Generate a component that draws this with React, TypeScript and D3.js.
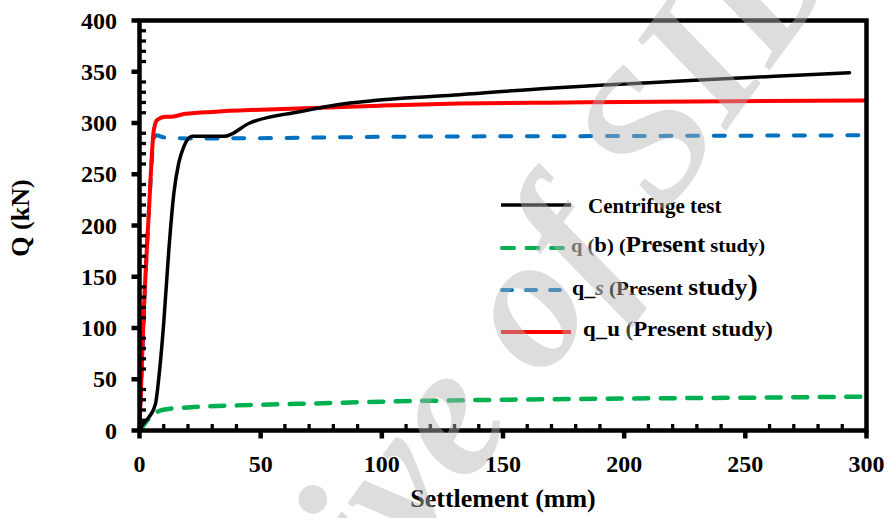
import React from "react";
import * as d3 from "d3";

// ---------- data ----------
const centrifugeX = [0, 1.1, 3.9, 6.6, 8, 10, 12.1, 14.2, 16.2, 18.3, 21.8, 28, 35, 45.5, 66, 86.8, 107, 132, 169, 200, 231, 262, 293];
const centrifugeQ = [0, 5, 13, 26, 52, 105, 176, 232, 261, 277, 287, 287, 287, 300, 311, 319.5, 324, 327.6, 334, 338, 342, 345.5, 349];

const qbX = [0, 2, 4, 6, 8, 12, 20, 40, 66, 107, 150, 190, 250, 300];
const qbQ = [0, 6, 12, 16, 19, 21, 22.5, 24.5, 26, 28.5, 30, 31, 32, 33];

const qsX = [0, 2.5, 4.5, 5.9, 7, 10, 20, 35, 100, 200, 300];
const qsQ = [0, 150, 240, 285, 288, 286, 285, 285, 286.5, 287.3, 288];

const quX = [0, 1.8, 3.9, 5.9, 7.3, 10.7, 12.4, 19, 31.4, 50, 100, 132, 169, 200, 300];
const quQ = [0, 117, 215, 293, 303, 306, 306, 309, 311, 313, 317, 319, 319.8, 320.5, 322];

const xTicks = [0, 50, 100, 150, 200, 250, 300];
const yTicks = [0, 50, 100, 150, 200, 250, 300, 350, 400];

const xTitle = "Settlement (mm)";
const yTitle = "Q (kN)";
const watermark = "Archive of SID";

// ---------- layout ----------
const W = 888;
const H = 518;
const x = d3.scaleLinear().domain([0, 300]).range([139.5, 866.5]);
const y = d3.scaleLinear().domain([0, 400]).range([430.5, 20.5]);

const FONT = "Liberation Serif";

function path(xs: number[], qs: number[]) {
  const pts = xs.map((v, i) => [v, qs[i]] as [number, number]);
  return (
    d3
      .line<[number, number]>()
      .x((d) => x(d[0]))
      .y((d) => y(d[1]))
      .curve(d3.curveMonotoneX)(pts) || ""
  );
}

export default function App() {
  const xMinor = d3.range(10, 300, 10).filter((v) => v % 50 !== 0);
  const yMinor = d3.range(10, 400, 10).filter((v) => v % 50 !== 0);
  return (
    <svg
      width={W}
      height={H}
      viewBox={`0 0 ${W} ${H}`}
      style={{ position: "absolute", left: 0, top: 0, background: "#fff" }}
    >
      <rect x={0} y={0} width={W} height={H} fill="#fff" />

      {/* series */}
      <path d={path(qbX, qbQ)} fill="none" stroke="#00b050" strokeWidth={4.5} strokeDasharray="14 12.5" strokeLinecap="round" />
      <path d={path(qsX, qsQ)} fill="none" stroke="#0070c0" strokeWidth={4} strokeDasharray="11 15.7" strokeLinecap="round" />
      <path d={path(quX, quQ)} fill="none" stroke="#ff0000" strokeWidth={4} strokeLinejoin="round" />
      <path d={path(centrifugeX, centrifugeQ)} fill="none" stroke="#000" strokeWidth={3.5} strokeLinejoin="round" strokeLinecap="round" />

      {/* frame */}
      <rect x={x(0)} y={y(400)} width={x(300) - x(0)} height={y(0) - y(400)} fill="none" stroke="#000" strokeWidth={4.5} />

      {/* y ticks */}
      {yTicks.map((t) => (
        <g key={"yt" + t}>
          <line x1={x(0) - 8} x2={x(0)} y1={y(t)} y2={y(t)} stroke="#000" strokeWidth={4.5} />
          <text x={117} y={y(t) + 8} textAnchor="end" fontFamily={FONT} fontWeight="bold" fontSize={24}>
            {t}
          </text>
        </g>
      ))}
      {yMinor.map((t) => (
        <line key={"ym" + t} x1={x(0)} x2={x(0) + 6.5} y1={y(t)} y2={y(t)} stroke="#000" strokeWidth={3.3} />
      ))}

      {/* x ticks */}
      {xTicks.map((t) => (
        <g key={"xt" + t}>
          <line x1={x(t)} x2={x(t)} y1={y(0)} y2={y(0) + 8} stroke="#000" strokeWidth={4.5} />
          <text x={x(t)} y={472} textAnchor="middle" fontFamily={FONT} fontWeight="bold" fontSize={24}>
            {t}
          </text>
        </g>
      ))}
      {xMinor.map((t) => (
        <line key={"xm" + t} x1={x(t)} x2={x(t)} y1={y(0)} y2={y(0) - 6.5} stroke="#000" strokeWidth={3.3} />
      ))}

      {/* axis titles */}
      <text x={503} y={507} textAnchor="middle" fontFamily={FONT} fontWeight="bold" fontSize={26}>
        {xTitle}
      </text>
      <text transform="translate(29,218) rotate(-90)" textAnchor="middle" fontFamily={FONT} fontWeight="bold" fontSize={26}>
        {yTitle}
      </text>

      {/* legend */}
      <line x1={501} x2={571} y1={205} y2={205} stroke="#000" strokeWidth={3.5} />
      <text x={588} y={213} fontFamily={FONT} fontWeight="bold" fontSize={21}>
        Centrifuge test
      </text>

      <line x1={502} x2={570} y1={248} y2={248} stroke="#00b050" strokeWidth={4} strokeDasharray="12 12.5" strokeLinecap="round" />
      <text x={571} y={252} fontFamily={FONT} fontWeight="bold" fontSize={19} textLength={194} lengthAdjust="spacingAndGlyphs">
        <tspan fill="#444">q (</tspan>
        <tspan fontSize={21}>b</tspan>
        <tspan>) (</tspan>
        <tspan fontSize={23}>Present</tspan>
        <tspan fontSize={19}> study)</tspan>
      </text>

      <line x1={502} x2={570} y1={290} y2={290} stroke="#0070c0" strokeWidth={4} strokeDasharray="10 14" strokeLinecap="round" />
      <text x={572} y={295} fontFamily={FONT} fontWeight="bold" fontSize={20} textLength={186} lengthAdjust="spacingAndGlyphs">
        <tspan>q_</tspan>
        <tspan fontStyle="italic" fill="#444">s</tspan>
        <tspan fontSize={19}>{"  (Present "}</tspan>
        <tspan fontSize={23}>study</tspan>
        <tspan fontSize={29}>)</tspan>
      </text>

      <line x1={501} x2={571} y1={332} y2={332} stroke="#ff0000" strokeWidth={4} />
      <text x={583} y={336} fontFamily={FONT} fontWeight="bold" fontSize={22} textLength={190} lengthAdjust="spacingAndGlyphs">
        <tspan>q_u </tspan>
        <tspan fill="#444">(</tspan>
        <tspan>Present study)</tspan>
      </text>

      {/* watermark */}
      <text
        transform="translate(156,915) rotate(-54)"
        fontFamily={FONT}
        fontWeight="bold"
        fontStyle="italic"
        fontSize={190}
        fill="#b4b4b4"
        opacity={0.45}
      >
        {watermark}
      </text>
    </svg>
  );
}
